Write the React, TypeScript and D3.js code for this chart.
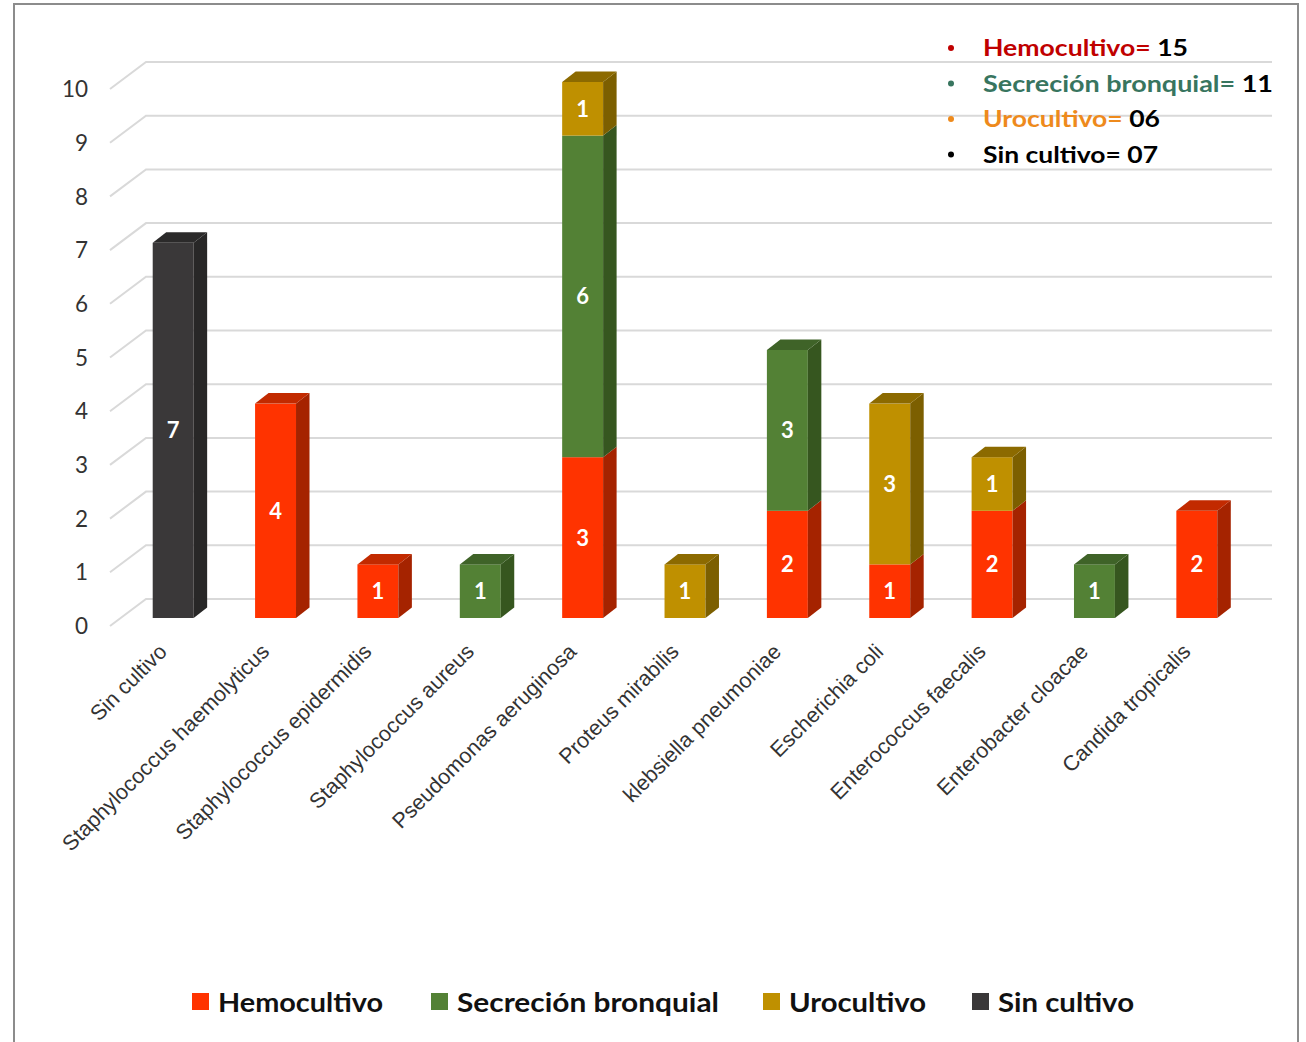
import * as d3 from 'd3';

const CATEGORIES = [
  'Sin cultivo',
  'Staphylococcus haemolyticus',
  'Staphylococcus epidermidis',
  'Staphylococcus aureus',
  'Pseudomonas aeruginosa',
  'Proteus mirabilis',
  'klebsiella pneumoniae',
  'Escherichia coli',
  'Enterococcus faecalis',
  'Enterobacter cloacae',
  'Candida tropicalis',
];

const SERIES = ['Hemocultivo', 'Secreción bronquial', 'Urocultivo', 'Sin cultivo'];
const HEMOCULTIVO = [0, 4, 1, 0, 3, 0, 2, 1, 2, 0, 2];
const SECRECION = [0, 0, 0, 1, 6, 0, 3, 0, 0, 1, 0];
const UROCULTIVO = [0, 0, 0, 0, 1, 1, 0, 3, 1, 0, 0];
const SIN_CULTIVO = [7, 0, 0, 0, 0, 0, 0, 0, 0, 0, 0];
const Y_TICKS = [0, 1, 2, 3, 4, 5, 6, 7, 8, 9, 10];

const TOTAL_LABELS = ['Hemocultivo=', 'Secreción bronquial=', 'Urocultivo=', 'Sin cultivo='];
const TOTAL_VALUES = ['15', '11', '06', '07'];

// front / side / top faces per series
const FACES: Record<string, [string, string, string]> = {
  Hemocultivo: ['#ff3300', '#a52300', '#c22a00'],
  'Secreción bronquial': ['#538135', '#36561f', '#3f6328'],
  Urocultivo: ['#bf9000', '#7c5f00', '#8c6a00'],
  'Sin cultivo': ['#3a3839', '#282727', '#2b2a2a'],
};
const TOTAL_COLORS = ['#c00000', '#38755f', '#ee8a1c', '#000000'];

const W = 1306;
const H = 1042;
const DX = 13.5; // bar depth
const DY = -10.5;
const WALL_DX = 36; // side wall of the 3D floor
const WALL_DY = 27;

export default function App() {
  const rows = CATEGORIES.map((c, i) => ({
    cat: c,
    Hemocultivo: HEMOCULTIVO[i],
    'Secreción bronquial': SECRECION[i],
    Urocultivo: UROCULTIVO[i],
    'Sin cultivo': SIN_CULTIVO[i],
  }));
  const series = d3.stack<any>().keys(SERIES)(rows);

  const x = d3
    .scaleBand<string>()
    .domain(CATEGORIES)
    .range([122, 1248])
    .paddingInner(0.6)
    .paddingOuter(0.3);
  const bw = x.bandwidth();
  const yWall = d3.scaleLinear().domain([0, 10]).range([599, 62]);
  const yBar = d3.scaleLinear().domain([0, 10]).range([618, 82]);
  const wallLeft = 146;
  const wallRight = 1272;

  // top-most segment of each category gets the visible top face
  const topKey = rows.map((r) => {
    let k = '';
    for (const s of SERIES) if ((r as any)[s] > 0) k = s;
    return k;
  });

  const legendX = [192, 431, 763, 972];
  const legendW = [165, 262, 137, 136];
  const totalW = [205, 290, 177, 175];

  return (
    <svg
      width={W}
      height={H}
      style={{ position: 'absolute', left: 0, top: 0, background: '#fff' }}
    >
      <rect x={14} y={4} width={1284} height={H + 10} fill="#fff" stroke="#8c8c8c" strokeWidth={2} />

      {Y_TICKS.map((t) => (
        <g key={t}>
          <path
            d={`M${wallLeft - WALL_DX},${yWall(t) + WALL_DY}L${wallLeft},${yWall(t)}L${wallRight},${yWall(t)}`}
            fill="none"
            stroke="#d9d9d9"
            strokeWidth={2}
          />
          <text
            x={88}
            y={yWall(t) + WALL_DY}
            dy="0.36em"
            textAnchor="end"
            fontFamily="Lato, sans-serif"
            fontSize={22.5}
            fill="#333"
          >
            {t}
          </text>
        </g>
      ))}

      {series.map((s) =>
        s.map((d, i) => {
          if (d[1] - d[0] <= 0) return null;
          const key = s.key;
          const [front, side, top] = FACES[key];
          const x0 = x(CATEGORIES[i])!;
          const x1 = x0 + bw;
          const yb = yBar(d[0]);
          const yt = yBar(d[1]);
          return (
            <g key={key + i}>
              <rect x={x0} y={yt} width={bw} height={yb - yt} fill={front} />
              <path d={`M${x1},${yt}L${x1 + DX},${yt + DY}L${x1 + DX},${yb + DY}L${x1},${yb}Z`} fill={side} />
              {topKey[i] === key && (
                <path d={`M${x0},${yt}L${x0 + DX},${yt + DY}L${x1 + DX},${yt + DY}L${x1},${yt}Z`} fill={top} />
              )}
              <text
                x={x0 + bw / 2}
                y={(yb + yt) / 2}
                dy="0.36em"
                textAnchor="middle"
                fontFamily="Lato, sans-serif"
                fontWeight={700}
                fontSize={22}
                fill="#fff"
              >
                {d[1] - d[0]}
              </text>
            </g>
          );
        })
      )}

      {CATEGORIES.map((c) => {
        const cx = x(c)! + bw / 2 - 5;
        return (
          <text
            key={c}
            transform={`translate(${cx},653) rotate(-45)`}
            textAnchor="end"
            fontFamily="'Liberation Sans', Arial, sans-serif"
            fontSize={21.5}
            fill="#333"
          >
            {c}
          </text>
        );
      })}

      {TOTAL_LABELS.map((l, i) => {
        const by = 56 + i * 35.5;
        return (
          <g key={l}>
            <circle cx={951} cy={by - 8} r={3} fill={TOTAL_COLORS[i]} />
            <text
              x={983}
              y={by}
              textLength={totalW[i]}
              lengthAdjust="spacingAndGlyphs"
              fontFamily="Lato, sans-serif"
              fontWeight={700}
              fontSize={23}
            >
              <tspan fill={TOTAL_COLORS[i]}>{l}</tspan>
              <tspan fill="#000"> {TOTAL_VALUES[i]}</tspan>
            </text>
          </g>
        );
      })}

      {SERIES.map((s, i) => (
        <g key={s}>
          <rect x={legendX[i]} y={993} width={17} height={17} fill={FACES[s][0]} />
          <text
            x={legendX[i] + 26}
            y={1012}
            textLength={legendW[i]}
            lengthAdjust="spacingAndGlyphs"
            fontFamily="Lato, sans-serif"
            fontWeight={700}
            fontSize={26.5}
            fill="#111"
          >
            {s}
          </text>
        </g>
      ))}
    </svg>
  );
}
